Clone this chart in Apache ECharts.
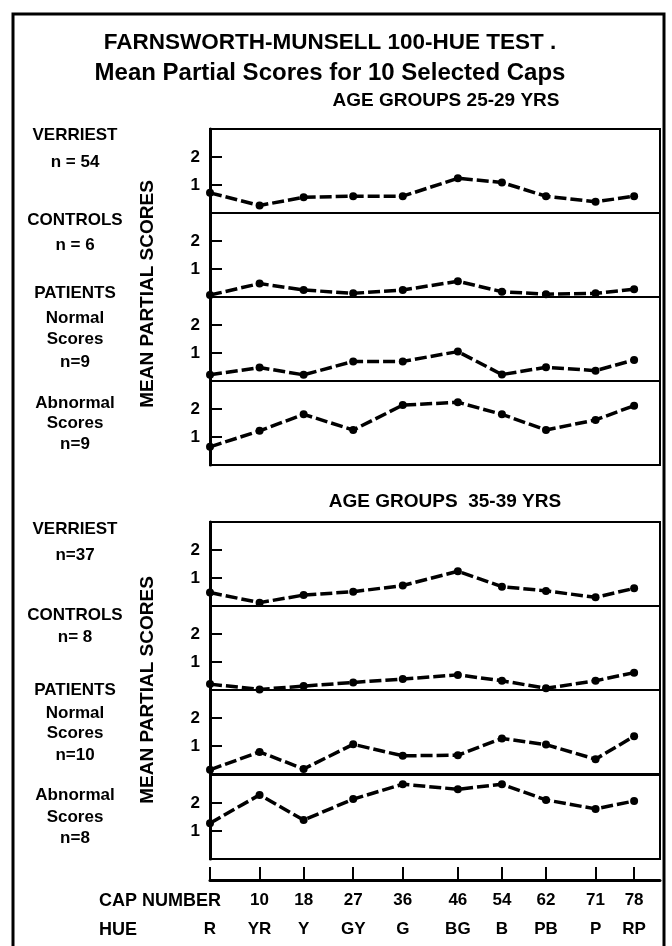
<!DOCTYPE html>
<html>
<head>
<meta charset="utf-8">
<script src="https://cdn.jsdelivr.net/npm/echarts@6.0.0/dist/echarts.min.js"></script>
<style>
  html, body { margin: 0; padding: 0; background: #fff; }
  #main { width: 672px; height: 946px; }
</style>
</head>
<body>
<div id="main"></div>
<script>
// cap numbers and hue names along the bottom
var caps = [1, 10, 18, 27, 36, 46, 54, 62, 71, 78];
var capLabels = ['', '10', '18', '27', '36', '46', '54', '62', '71', '78'];
var hues = ['R', 'YR', 'Y', 'GY', 'G', 'BG', 'B', 'PB', 'P', 'RP'];
var yTicks = [1, 2];

// mean partial scores, age 25-29
var verriest2529 = [0.72, 0.27, 0.56, 0.60, 0.60, 1.24, 1.09, 0.60, 0.40, 0.60];
var controls2529 = [0.07, 0.48, 0.25, 0.13, 0.25, 0.56, 0.19, 0.10, 0.13, 0.28];
var normal2529 = [0.22, 0.48, 0.22, 0.70, 0.70, 1.05, 0.23, 0.49, 0.37, 0.75];
var abnormal2529 = [0.65, 1.22, 1.81, 1.25, 2.14, 2.24, 1.81, 1.25, 1.61, 2.12];

// mean partial scores, age 35-39
var verriest3539 = [0.48, 0.12, 0.39, 0.51, 0.73, 1.24, 0.69, 0.54, 0.31, 0.63];
var controls3539 = [0.21, 0.02, 0.14, 0.27, 0.39, 0.54, 0.33, 0.06, 0.33, 0.62];
var normal3539 = [0.15, 0.79, 0.18, 1.06, 0.65, 0.67, 1.27, 1.05, 0.53, 1.35];
var abnormal3539 = [1.28, 2.29, 1.39, 2.14, 2.67, 2.49, 2.67, 2.11, 1.79, 2.07];

var panels = [verriest2529, controls2529, normal2529, abnormal2529,
              verriest3539, controls3539, normal3539, abnormal3539];

// group labels on the left
var groupLabels = [
  ['VERRIEST', 'n = 54'], ['CONTROLS', 'n = 6'],
  ['PATIENTS', 'Normal', 'Scores', 'n=9'], ['Abnormal', 'Scores', 'n=9'],
  ['VERRIEST', 'n=37'], ['CONTROLS', 'n= 8'],
  ['PATIENTS', 'Normal', 'Scores', 'n=10'], ['Abnormal', 'Scores', 'n=8']
];

var FONT = 'Liberation Sans';
var panelTops = [129, 213, 297, 381, 522, 606, 690, 775];
var panelH = 84;
var labelY = [[135, 162], [220, 245], [293, 318, 339, 362], [403, 423, 444],
              [529, 555], [615, 637], [690, 713, 733, 755], [795, 817, 838]];

var grids = [], xAxes = [], yAxes = [], series = [];
panels.forEach(function (vals, i) {
  grids.push({
    left: 210, width: 450, top: panelTops[i], height: panelH,
    show: true, borderColor: '#000', borderWidth: 2
  });
  xAxes.push({ gridIndex: i, type: 'value', min: 1, max: 82.7, show: false });
  yAxes.push({
    gridIndex: i, type: 'value', min: 0, max: 3, interval: 1,
    axisLine: { show: true, lineStyle: { color: '#000', width: 3 } },
    axisTick: { show: true, inside: true, length: 12, customValues: yTicks,
                lineStyle: { color: '#000', width: 2 } },
    axisLabel: { customValues: yTicks, color: '#000', fontSize: 17, fontWeight: 'bold',
                 fontFamily: FONT, margin: 10 },
    splitLine: { show: false }
  });
  series.push({
    type: 'line', xAxisIndex: i, yAxisIndex: i,
    data: caps.map(function (c, j) { return [c, vals[j]]; }),
    symbol: 'circle', symbolSize: 8,
    itemStyle: { color: '#000' },
    lineStyle: { color: '#000', width: 3.5, type: [12, 4] },
    silent: true
  });
});

// bottom cap-number / hue axis
grids.push({ left: 210, width: 450, top: 867, height: 13, show: false });
xAxes.push({
  gridIndex: 8, type: 'value', min: 1, max: 82.7, position: 'bottom',
  axisLine: { show: true, onZero: false, lineStyle: { color: '#000', width: 3 } },
  axisTick: { show: true, inside: true, length: 13, customValues: caps,
              lineStyle: { color: '#000', width: 2 } },
  axisLabel: { customValues: caps, margin: 12, color: '#000', fontSize: 17,
               fontWeight: 'bold', fontFamily: FONT,
               formatter: function (v) { return capLabels[caps.indexOf(v)]; } },
  splitLine: { show: false }
});
xAxes.push({
  gridIndex: 8, type: 'value', min: 1, max: 82.7, position: 'bottom', offset: 29,
  axisLine: { show: false }, axisTick: { show: false },
  axisLabel: { customValues: caps, margin: 12, color: '#000', fontSize: 17,
               fontWeight: 'bold', fontFamily: FONT,
               formatter: function (v) { return hues[caps.indexOf(v)]; } },
  splitLine: { show: false }
});
yAxes.push({ gridIndex: 8, type: 'value', show: false });

var txt = function (text, x, y, size, extra) {
  var el = {
    type: 'text', x: x, y: y,
    style: { text: text, fill: '#000', font: 'bold ' + size + 'px "' + FONT + '"',
             textAlign: 'center', textVerticalAlign: 'middle' }
  };
  if (extra) { Object.keys(extra).forEach(function (k) { el.style[k] = extra[k]; }); }
  return el;
};

var graphics = [
  { type: 'rect', shape: { x: 13, y: 14, width: 651, height: 960 },
    style: { fill: 'none', stroke: '#000', lineWidth: 3 } },
  txt('FARNSWORTH-MUNSELL 100-HUE TEST .', 330, 43, 22.5),
  txt('Mean Partial Scores for 10 Selected Caps', 330, 73, 24),
  txt('AGE GROUPS 25-29 YRS', 446, 101, 19),
  txt('AGE GROUPS  35-39 YRS', 445, 502, 19),
  txt('CAP NUMBER', 99, 901, 18, { textAlign: 'left' }),
  txt('HUE', 99, 930, 18, { textAlign: 'left' })
];
[294, 690].forEach(function (cy) {
  var t = txt('MEAN PARTIAL SCORES', 148, cy, 19);
  t.rotation = Math.PI / 2;
  graphics.push(t);
});
groupLabels.forEach(function (lines, i) {
  lines.forEach(function (line, j) {
    graphics.push(txt(line, 75, labelY[i][j], 17));
  });
});

var chart = echarts.init(document.getElementById('main'));
chart.setOption({
  animation: false,
  backgroundColor: '#fff',
  grid: grids,
  xAxis: xAxes,
  yAxis: yAxes,
  series: series,
  graphic: graphics
});
</script>
</body>
</html>
